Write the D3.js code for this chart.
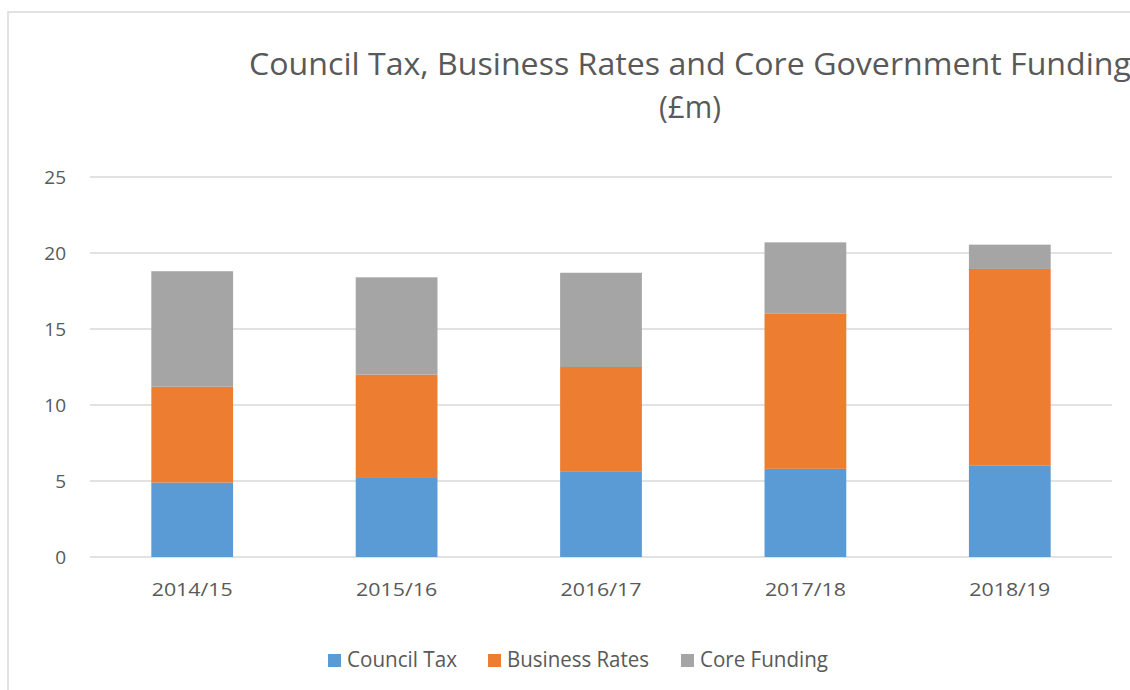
<!DOCTYPE html>
<html><head><meta charset="utf-8">
<script src="https://cdn.jsdelivr.net/npm/d3@7"></script>
<style>body{margin:0;background:#fff;overflow:hidden}svg{display:block}</style>
</head><body>
<svg id="c" width="1130" height="690"></svg>
<script>
const years = ["2014/15","2015/16","2016/17","2017/18","2018/19"];
const councilTax = [4.9, 5.2, 5.6, 5.8, 6.0];
const businessRates = [6.3, 6.8, 6.9, 10.2, 12.95];
const coreFunding = [7.6, 6.4, 6.2, 4.7, 1.6];
const seriesNames = ["Council Tax","Business Rates","Core Funding"];
const colors = ["#5b9bd5","#ed7d31","#a5a5a5"];
const yTicks = [0,5,10,15,20,25];

const svg = d3.select("#c");
const font = "'Open Sans', sans-serif";
const textColor = "#595959";

// chart border
svg.append("rect").attr("x",8).attr("y",12).attr("width",1140).attr("height",700)
  .attr("fill","#fff").attr("stroke","#d9d9d9").attr("stroke-width",1.5);

// title
svg.append("text").attr("x",690).attr("y",75).attr("text-anchor","middle")
  .attr("font-family",font).attr("font-size",31).attr("fill",textColor)
  .attr("textLength",882).attr("lengthAdjust","spacingAndGlyphs")
  .text("Council Tax, Business Rates and Core Government Funding");
svg.append("text").attr("x",690).attr("y",118).attr("text-anchor","middle")
  .attr("font-family",font).attr("font-size",31).attr("fill",textColor)
  .attr("textLength",62).attr("lengthAdjust","spacingAndGlyphs")
  .text("(£m)");

const x = d3.scaleBand().domain(years).range([90,1112]).paddingInner(0.6).paddingOuter(0.3);
const y = d3.scaleLinear().domain([0,25]).range([557,177]);

// gridlines
svg.append("g").selectAll("line").data(yTicks).join("line")
  .attr("x1",90).attr("x2",1112).attr("y1",d=>y(d)).attr("y2",d=>y(d))
  .attr("stroke","#d9d9d9").attr("stroke-width",1.3);

// y axis labels
const yAxis = svg.append("g").attr("transform","translate(66,0)")
  .call(d3.axisLeft(y).tickValues(yTicks).tickSize(0).tickPadding(0));
yAxis.select(".domain").remove();
yAxis.selectAll("text").attr("font-family",font).attr("font-size",19).attr("fill",textColor)
  .attr("dy","0.35em");

// x axis labels
const xAxis = svg.append("g").attr("transform","translate(0,596)")
  .call(d3.axisBottom(x).tickSize(0).tickPadding(0));
xAxis.select(".domain").remove();
xAxis.selectAll("text").attr("font-family",font).attr("font-size",19).attr("fill",textColor)
  .attr("y",0).attr("dy",0)
  .attr("textLength",81).attr("lengthAdjust","spacingAndGlyphs");

// stacked bars
const table = years.map((yr,i)=>({year:yr,"Council Tax":councilTax[i],"Business Rates":businessRates[i],"Core Funding":coreFunding[i]}));
const stack = d3.stack().keys(seriesNames)(table);
svg.append("g").selectAll("g").data(stack).join("g").attr("fill",(d,i)=>colors[i])
  .selectAll("rect").data(d=>d).join("rect")
  .attr("x",d=>x(d.data.year)).attr("width",x.bandwidth())
  .attr("y",d=>y(d[1])).attr("height",d=>y(d[0])-y(d[1]));

// legend
const legX = [328,488,681];
const legW = [110,142,128];
const leg = svg.append("g");
seriesNames.forEach((n,i)=>{
  leg.append("rect").attr("x",legX[i]).attr("y",654).attr("width",13).attr("height",13).attr("fill",colors[i]);
  leg.append("text").attr("x",legX[i]+19).attr("y",667).attr("font-family",font).attr("font-size",21)
    .attr("fill",textColor).attr("textLength",legW[i]).attr("lengthAdjust","spacingAndGlyphs").text(n);
});
</script>
</body></html>
